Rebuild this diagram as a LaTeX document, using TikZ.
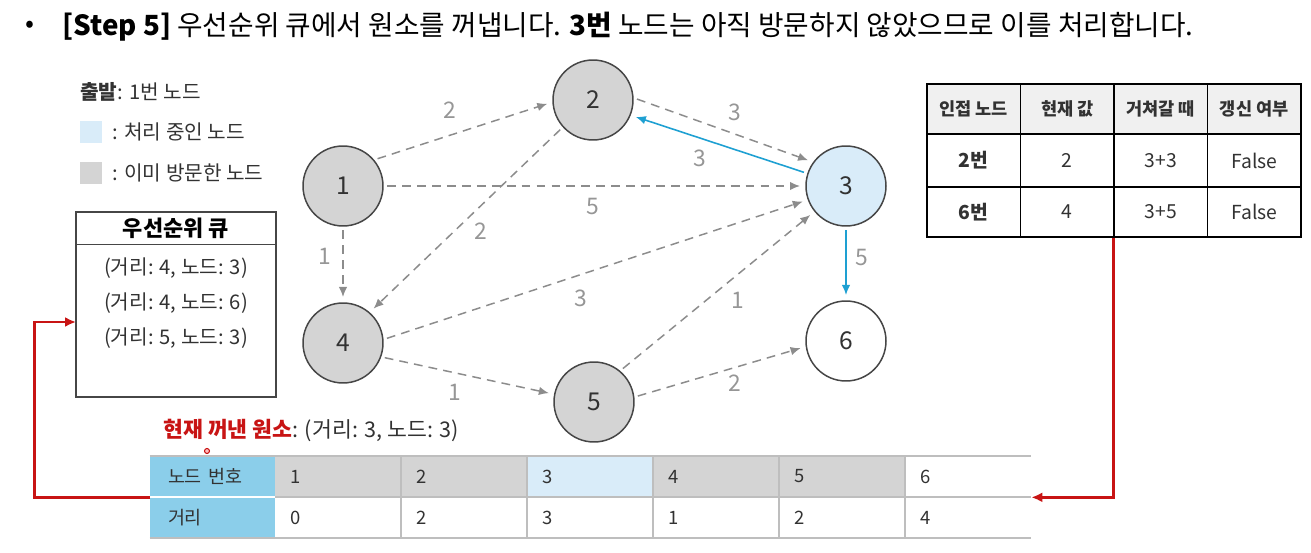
\documentclass[tikz,border=0pt]{standalone}
\usepackage{fontspec}
\setmainfont{Noto Sans CJK KR}
\usetikzlibrary{arrows.meta,positioning,calc}
\definecolor{djedge}{RGB}{70,70,70}
\definecolor{djgray}{RGB}{140,140,140}
\definecolor{djlab}{RGB}{150,150,150}
\definecolor{djvis}{RGB}{212,212,212}
\definecolor{djcur}{RGB}{217,236,249}
\definecolor{djblue}{RGB}{30,160,210}
\definecolor{djred}{RGB}{200,20,20}
\definecolor{djhead}{RGB}{139,206,234}
\definecolor{djgrid}{RGB}{190,190,190}
\definecolor{djthead}{RGB}{240,240,240}
\definecolor{djtxt}{RGB}{50,50,50}
\newcommand{\djfs}[1]{\fontsize{#1}{#1}\selectfont}
\tikzset{
  vtx/.style={circle, draw=djedge, line width=0.85pt, minimum size=1.6cm,
    inner sep=0pt, font=\djfs{14pt}, text=djtxt},
  edge/.style={-{Latex[length=2mm,width=1.7mm]}, draw=djgray, line width=0.85pt,
    dash pattern=on 5pt off 3.5pt, shorten <=2pt, shorten >=3pt},
  hot/.style={-{Latex[length=2mm,width=1.7mm]}, draw=djblue, line width=0.9pt,
    shorten <=2pt, shorten >=3pt},
  elab/.style={font=\djfs{13pt}, text=djlab},
  lgtxt/.style={font=\djfs{11.5pt}, text=djtxt, inner sep=0pt},
  sq/.style={minimum size=0.44cm, inner sep=0pt},
  qbox/.style={draw=djedge, line width=0.7pt, minimum width=4cm, minimum height=3.7cm},
  qtxt/.style={font=\djfs{11.5pt}, text=djtxt},
  tcell/.style={draw=black, line width=0.7pt, minimum width=1.87cm, inner sep=0pt,
    font=\djfs{11pt}, text=djtxt},
  cell/.style={minimum height=0.82cm, inner ysep=0pt, inner xsep=0.3cm,
    text width=1.92cm, align=left, font=\djfs{10.5pt}, text=djtxt},
  hcell/.style={cell, fill=djhead, inner xsep=0.36cm, text width=1.78cm},
  grid/.style={draw=djgrid, line width=1.1pt},
  redarr/.style={-{Latex[length=2.2mm,width=2mm]}, draw=djred, line width=1.4pt}
}
\begin{document}
\begin{tikzpicture}[x=0.02cm,y=-0.02cm]
\useasboundingbox (0,0) rectangle (1311,553);

% title line
\node[font=\djfs{15pt}] (bul) at (30,27) {•};
\node[font=\djfs{15.8pt}, anchor=west, inner sep=0pt] (ttl) at (62,27)
  {\textbf{[Step 5]} 우선순위 큐에서 원소를 꺼냅니다. \textbf{3번} 노드는 아직 방문하지 않았으므로 이를 처리합니다.};

% legend
\node[lgtxt, anchor=west] (start) at (80,92) {\textbf{출발}: 1번 노드};
\node[sq, fill=djcur] (sqcur) at (91,132) {};
\node[lgtxt, right=0.2cm of sqcur] (lgcur) {: 처리 중인 노드};
\node[sq, fill=djvis] (sqvis) at (91,173) {};
\node[lgtxt, right=0.2cm of sqvis] (lgvis) {: 이미 방문한 노드};

% priority queue
\node[qbox] (queue) at (176,304.5) {};
\draw[draw=djedge, line width=0.7pt] (queue.north west) ++(0,33) -- ++(200,0);
\node[font=\djfs{12.5pt}\bfseries, text=black] (qhd) at (176,228) {우선순위 큐};
\foreach \d/\n [count=\i] in {4/3, 4/6, 5/3}
  \node[qtxt] (q\i) at (176,{268+(\i-1)*35}) {(거리: \d, 노드: \n)};
\coordinate (qin) at (76,322);

% graph
\node[vtx, fill=djvis] (n1) at (343,186) {1};
\node[vtx, fill=djvis] (n2) at (593,100) {2};
\node[vtx, fill=djcur] (n3) at (846,186) {3};
\node[vtx, fill=djvis] (n4) at (343,343) {4};
\node[vtx, fill=djvis] (n5) at (594,402) {5};
\node[vtx, fill=white] (n6) at (846,341) {6};

\draw[edge] (n1.40) -- (n2.183);
\draw[edge] (n1.0) -- (n3.180);
\draw[edge] (n1.270) -- (n4.90);
\draw[edge] (n2.3) -- (n3.144);
\draw[edge] (n2.222) -- (n4.49);
\draw[edge] (n4.5) -- (n3.200);
\draw[edge] (n4.-20) -- (n5.169);
\draw[edge] (n5.50) -- (n3.219);
\draw[edge] (n5.7) -- (n6.188);
\draw[hot] (n3.162) -- (n2.-22);
\draw[hot] (n3.270) -- (n6.90);

\foreach \w/\x/\y in {2/450/110, 5/593/207, 1/325/256, 3/735/112, 2/481/231,
    3/700/158, 3/581/298, 1/455/392, 1/738/300, 2/735/383, 5/862/258}
  \node[elab] at (\x,\y) {\w};

% right table
\foreach \h/\a/\b [count=\c] in {인접 노드/\textbf{2번}/\textbf{6번}, 현재 값/2/4,
    거쳐갈 때/3+3/3+5, 갱신 여부/False/False} {
  \node[tcell, fill=djthead, minimum height=1cm, font=\djfs{10pt}\bfseries]
    (rt\c0) at ({927+(\c-0.5)*93.5},109) {\h};
  \node[tcell, minimum height=1.06cm] (rt\c1) at ({927+(\c-0.5)*93.5},160.5) {\a};
  \node[tcell, minimum height=1cm] (rt\c2) at ({927+(\c-0.5)*93.5},212) {\b};
}

% current element
\node[font=\djfs{12.3pt}, anchor=west, inner sep=0pt, text=djtxt] (cur) at (163,430)
  {\textcolor{djred}{\textbf{현재 꺼낸 원소}}: (거리: 3, 노드: 3)};
\node[circle, draw=djred, fill=red!25, line width=0.6pt, minimum size=0.1cm, inner sep=0pt]
  (ptr) at (207,451) {};

% distance table
\node[hcell] (hd1) at (212.5,476.5) {노드 번호};
\node[hcell] (hd2) at (212.5,517.5) {거리};
\foreach \f/\d [count=\i] in {djvis/0, djvis/2, djcur/3, djvis/1, djvis/2, white/4} {
  \node[cell, fill=\f] (id\i) at ({338+(\i-1)*126},476.5) {\i};
  \node[cell] (ds\i) at ({338+(\i-1)*126},517.5) {\d};
}
\draw[grid] (hd1.north west) -- (id6.north east);
\draw[grid] (id1.south west) -- (id6.south east);
\draw[grid] (hd2.south west) -- (ds6.south east);
\draw[white, line width=1.1pt] (hd1.south west) -- (hd1.south east);
\foreach \i in {1,...,5}
  \draw[grid] (id\i.north east) -- (ds\i.south east);

% red connectors
\draw[redarr] (rt32.south west) |- (id6.south east);
\draw[redarr] (hd1.south west) -- ++(-115,0) |- (qin);
\end{tikzpicture}
\end{document}
